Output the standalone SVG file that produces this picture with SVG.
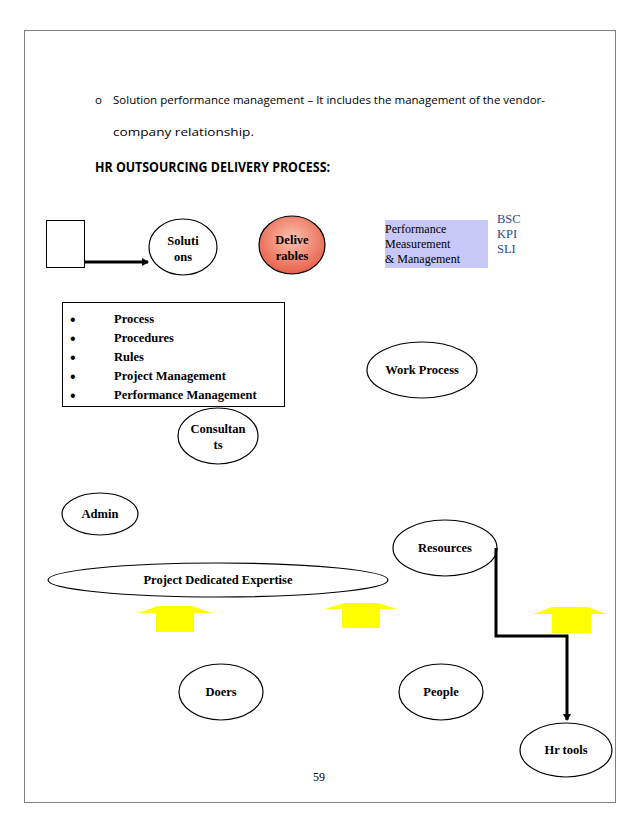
<svg xmlns="http://www.w3.org/2000/svg" width="638" height="826" viewBox="0 0 638 826">
<style>
.n{fill:#fff;stroke:#000;stroke-width:1.2}
.t{font-family:"Liberation Serif","Times New Roman",serif;font-weight:bold;font-size:12.5px;fill:#000;text-anchor:middle}
.b{font-family:"Liberation Serif","Times New Roman",serif;font-weight:bold;font-size:12.5px;fill:#000}
.p{font-family:"Open Sans","Liberation Sans",sans-serif;font-size:11.5px;fill:#000}
.s{font-family:"Liberation Serif","Times New Roman",serif;font-size:12px;fill:#000}
.m{font-family:"Liberation Serif","Times New Roman",serif;font-size:12.5px;fill:#2a4a90}
.y{fill:#ffff00}
.c{fill:none;stroke:#000;stroke-width:3}
</style>
<defs>
<radialGradient id="g1" cx="50%" cy="40%" r="60%">
<stop offset="0" stop-color="#fbc4b0"/>
<stop offset="1" stop-color="#e8604a"/>
</radialGradient>
<marker id="ah" markerWidth="8" markerHeight="8" refX="6" refY="4" orient="auto" markerUnits="userSpaceOnUse">
<path d="M0,0 L7,4 L0,8 z" fill="#000"/>
</marker>
</defs>
<rect x="0" y="0" width="638" height="826" fill="#fff"/>
<rect x="24.5" y="30.5" width="591" height="772" fill="none" stroke="#808080" stroke-width="1"/>
<g id="header">
<text class="p" x="95" y="104">o</text>
<text class="p" x="113" y="104" textLength="432" lengthAdjust="spacing">Solution performance management – It includes the management of the vendor-</text>
<text class="p" x="113" y="136" textLength="141" lengthAdjust="spacingAndGlyphs">company relationship.</text>
<text x="95" y="172" font-family="Open Sans, Liberation Sans, sans-serif" font-weight="bold" font-size="14" fill="#000" textLength="235" lengthAdjust="spacingAndGlyphs">HR OUTSOURCING DELIVERY PROCESS:</text>
</g>
<g id="start"><rect x="46.5" y="220.5" width="38" height="47" fill="#fff" stroke="#000" stroke-width="1"/></g>
<g id="solutions"><ellipse class="n" cx="183" cy="247" rx="34" ry="28"/><text class="t" x="183" y="245">Soluti</text><text class="t" x="183" y="261">ons</text></g>
<g id="deliverables"><ellipse cx="292" cy="245" rx="33" ry="29" fill="url(#g1)" stroke="#000" stroke-width="1.2"/><text class="t" x="292" y="244">Delive</text><text class="t" x="292" y="260">rables</text></g>
<g id="performance"><rect x="385" y="220" width="103" height="48" fill="#c8c8f8"/>
<text class="s" x="385" y="233">Performance</text><text class="s" x="385" y="248">Measurement</text><text class="s" x="385" y="263">&amp; Management</text></g>
<g id="metrics"><text class="m" x="497" y="223">BSC</text><text class="m" x="497" y="238">KPI</text><text class="m" x="497" y="253">SLI</text></g>
<g id="list"><rect x="62.5" y="302.5" width="222" height="104" fill="#fff" stroke="#000" stroke-width="1"/>
<g font-family="Liberation Sans, sans-serif" font-size="16" fill="#000">
<text x="70" y="325">•</text><text x="70" y="344">•</text><text x="70" y="363">•</text><text x="70" y="382">•</text><text x="70" y="401">•</text></g>
<text class="b" x="114" y="323">Process</text><text class="b" x="114" y="342">Procedures</text><text class="b" x="114" y="361">Rules</text><text class="b" x="114" y="380">Project Management</text><text class="b" x="114" y="399">Performance Management</text></g>
<g id="workprocess"><ellipse class="n" cx="422" cy="370" rx="55" ry="28"/><text class="t" x="422" y="374">Work Process</text></g>
<g id="consultants"><ellipse class="n" cx="218" cy="436" rx="40" ry="28"/><text class="t" x="218" y="433">Consultan</text><text class="t" x="218" y="449">ts</text></g>
<g id="admin"><ellipse class="n" cx="100" cy="514" rx="38" ry="21"/><text class="t" x="100" y="518">Admin</text></g>
<g id="resources"><ellipse class="n" cx="445" cy="548" rx="52" ry="28"/><text class="t" x="445" y="552">Resources</text></g>
<g id="expertise"><ellipse class="n" cx="218" cy="580" rx="170" ry="17"/><text class="t" x="218" y="584">Project Dedicated Expertise</text></g>
<g id="arrows-up">
<polygon class="y" points="138,613 158,606 192,606 212,613 194,613 194,632 156,632 156,613"/>
<polygon class="y" points="325,609 344,603 378,603 397,609 380,609 380,628 342,628 342,609"/>
<polygon class="y" points="533,614 552,607 588,607 606,614 591,614 591,633 552,633 552,614"/>
</g>
<g id="doers"><ellipse class="n" cx="221" cy="692" rx="42" ry="28"/><text class="t" x="221" y="696">Doers</text></g>
<g id="people"><ellipse class="n" cx="441" cy="692" rx="42" ry="28"/><text class="t" x="441" y="696">People</text></g>
<g id="hrtools"><ellipse class="n" cx="566" cy="750" rx="46" ry="27"/><text class="t" x="566" y="754">Hr tools</text></g>
<g id="connectors">
<line class="c" x1="84" y1="262" x2="148" y2="262" marker-end="url(#ah)"/>
<polyline class="c" points="496,548 496,636 567,636 567,720" marker-end="url(#ah)"/>
</g>
<text class="s" x="319" y="781" text-anchor="middle">59</text>
</svg>
